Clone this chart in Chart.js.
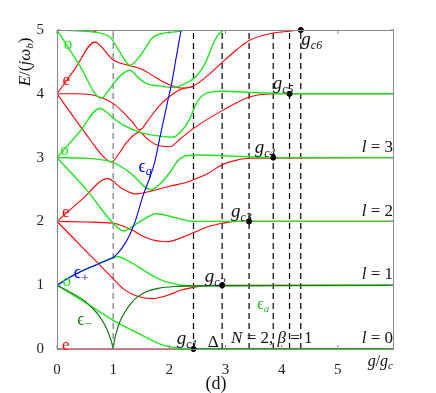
<!DOCTYPE html>
<html>
<head>
	<title>Spectrum (d)</title>
	<style>
		body { margin: 0; background: #fff; }
		.chartBox { width: 436px; height: 393px; }
	</style>
</head>
<body>
	<div class="chartBox">
	<canvas id="chart1" width="436" height="393"></canvas>
	</div>

	<script src="https://cdn.jsdelivr.net/npm/chart.js@4/dist/chart.umd.min.js"></script>
	<script>
		// levels, each point is [g/g_c, E/(j w_b)]
		// red (even parity) curves
		var red0 = [[0,0],[6,0]];
		var red1 = [[0,2],[0.5,1.55],[1.0,1.1],[1.2,0.93],[1.42,0.83],[1.7,0.79],[2.0,0.85],[2.2,0.92],[2.45,0.97],[2.8,1.0],[6,1]];
		var red2 = [[0,2],[0.5,1.99],[1.0,1.97],[1.3,1.88],[1.6,1.74],[1.95,1.68],[2.2,1.74],[2.45,1.83],[2.7,1.92],[2.95,1.97],[3.2,2.0],[6,2]];
		var red3 = [[0,2],[0.45,2.35],[0.9,2.67],[1.15,2.52],[1.4,2.43],[1.65,2.47],[2.0,2.55],[2.3,2.61],[2.45,2.66],[2.7,2.76],[2.95,2.89],[3.2,2.96],[3.43,2.99],[6,3]];
		var red4 = [[0,4],[0.3,3.63],[0.59,3.28],[0.8,3.04],[0.97,2.93],[1.1,3.06],[1.25,3.25],[1.47,3.4],[1.6,3.3],[1.77,3.2],[2.01,3.17],[2.2,3.3],[2.45,3.47],[2.95,3.74],[3.43,3.95],[3.9,4.0],[6,4]];
		var red5 = [[0,4],[0.3,4.0],[0.59,3.99],[0.82,3.93],[1.0,3.85],[1.18,3.71],[1.35,3.55],[1.47,3.43],[1.6,3.56],[1.83,3.82],[2.07,4.0],[2.2,4.07],[2.42,4.11]];
		var red6 = [[0,4],[0.32,4.39],[0.67,4.81],[1.0,4.53],[1.25,4.45],[1.5,4.39],[1.75,4.26],[1.95,4.16],[2.2,4.09],[2.42,4.12],[2.7,4.3],[2.95,4.5],[3.2,4.69],[3.43,4.84],[3.84,4.95],[4.14,4.98],[4.34,5.0],[6,5]];
		var red7 = [[0.45,5.3],[0.67,4.97],[0.9,5.3]];

		// green (odd parity) curves
		var green0 = [[0,1],[0.5,0.73],[1.0,0.45],[1.44,0.25],[1.86,0.07],[2.1,0.02],[2.45,0],[6,0]];
		var green1 = [[0,1],[0.3,1.16],[0.67,1.31],[1.0,1.43],[1.08,1.45],[1.2,1.41],[1.35,1.34],[1.5,1.26],[1.7,1.15],[1.86,1.08],[2.0,1.04],[2.21,1.0],[2.45,0.99],[6,1]];
		var green2 = [[0,3],[0.53,2.49],[1.0,1.97],[1.18,1.85],[1.45,1.98],[1.77,2.12],[2.1,2.06],[2.43,2.0],[6,2]];
		var green3 = [[0,3],[0.5,2.99],[0.94,2.94],[1.1,2.88],[1.36,2.72],[1.55,2.55],[1.68,2.5],[1.85,2.6],[2.01,2.77],[2.15,2.95],[2.3,3.03],[2.54,3.04],[2.95,3.03],[3.5,3.01],[3.85,3.0],[6,3]];
		var green4 = [[0,3],[0.4,3.4],[0.76,3.77],[0.9,3.7],[1.0,3.62],[1.18,3.51],[1.47,3.4],[1.8,3.34],[2.07,3.32],[2.2,3.4],[2.36,3.6],[2.48,3.85],[2.6,3.98],[2.75,4.03],[2.95,4.04],[3.5,4.02],[4.14,4.0],[6,4]];
		var green5 = [[0,5],[0.4,4.45],[0.79,3.93],[0.9,4.03],[1.0,4.15],[1.15,4.3],[1.3,4.37],[1.45,4.25],[1.6,4.16],[1.77,4.13],[2.07,4.1],[2.3,4.17],[2.45,4.25],[2.55,4.35],[2.65,4.5],[2.75,4.72],[2.85,4.9],[2.95,4.99],[3.1,5.04],[3.3,5.0],[6,5]];
		var green6 = [[0,5],[0.5,4.98],[0.94,4.89],[1.1,4.68],[1.3,4.45],[1.5,4.62],[1.7,4.88],[1.9,4.95],[2.1,4.97],[2.25,5.0],[2.45,5.12]];

		// semiclassical branches
		var epsMinus = [[0,1],[0.3,0.86],[0.5,0.75],[0.62,0.65],[0.75,0.52],[0.85,0.38],[0.93,0.22],[0.98,0.08],[1.0,0],[1.02,0.12],[1.06,0.27],[1.12,0.43],[1.21,0.58],[1.32,0.72],[1.44,0.82],[1.6,0.9],[1.8,0.95],[2.1,0.98],[2.45,0.99],[6,1]];
		var epsA = [[2.43,0],[6,0]];
		var epsPlus = [[0,1],[0.3,1.16],[0.67,1.31],[1.0,1.43]];
		var epsQ = [[1.0,1.43],[1.1,1.52],[1.2,1.64],[1.3,1.8],[1.4,2.02],[1.53,2.4],[1.65,2.68],[1.74,2.93],[1.84,3.35],[1.95,3.8],[2.04,4.16],[2.12,4.56],[2.21,5.0],[2.25,5.2]];

		// critical couplings g_c1..g_c6 and their levels
		var gcVals = [2.43, 2.94, 3.42, 3.85, 4.14, 4.34];
		var gcLevels = [0, 1, 2, 3, 4, 5];
		var xTicks = [0, 1, 2, 3, 4, 5];
		var yTicks = [0, 1, 2, 3, 4, 5];

		var RED = "rgb(255,0,0)";
		var GREEN = "rgb(30,230,30)";
		var DKGREEN = "rgb(0,120,0)";
		var BLUE = "rgb(0,0,255)";
		var SERIF = "'Liberation Serif', 'DejaVu Serif', serif";

		function curve(pts, color, width, order) {
			return {
				data: pts.map(function (p) { return {x: p[0], y: p[1]}; }),
				showLine: true,
				borderColor: color,
				borderWidth: width,
				pointRadius: 0,
				cubicInterpolationMode: 'monotone',
				order: order
			};
		}

		function vline(g, color, dash) {
			return {
				data: [{x: g, y: 0}, {x: g, y: 5}],
				showLine: true,
				borderColor: color,
				borderWidth: 1.2,
				borderDash: dash,
				pointRadius: 0,
				order: 60
			};
		}

		var datasets = [];
		datasets.push(vline(1, "#777", [6, 4]));
		gcVals.forEach(function (g) { datasets.push(vline(g, "#000", [6, 4])); });

		[red0, red1, red2, red3, red4, red5, red6, red7].forEach(function (c) {
			datasets.push(curve(c, RED, 1.1, 40));
		});
		[green0, green1, green2, green3, green4, green5, green6].forEach(function (c) {
			datasets.push(curve(c, GREEN, 1.4, 30));
		});
		datasets.push(curve(epsMinus, DKGREEN, 1.1, 20));
		datasets.push(curve(epsA, DKGREEN, 1.1, 20));
		datasets.push(curve(epsPlus, BLUE, 1.1, 10));
		datasets.push(curve(epsQ, BLUE, 1.1, 10));

		datasets.push({
			data: gcVals.map(function (g, i) { return {x: g, y: gcLevels[i]}; }),
			pointRadius: 2.6,
			pointBackgroundColor: "#000",
			pointBorderColor: "#000",
			showLine: false,
			clip: false,
			order: 1
		});

		// text in the plot, italic math with a subscript
		function mathText(ctx, parts, x, y, align) {
			// parts: [text, size, italic, dy]
			var total = 0;
			parts.forEach(function (p) {
				ctx.font = (p[2] ? "italic " : "") + p[1] + "px " + SERIF;
				total += ctx.measureText(p[0]).width;
			});
			var cx = align === "right" ? x - total : (align === "center" ? x - total / 2 : x);
			ctx.textAlign = "left";
			parts.forEach(function (p) {
				ctx.font = (p[2] ? "italic " : "") + p[1] + "px " + SERIF;
				ctx.fillText(p[0], cx, y + (p[3] || 0));
				cx += ctx.measureText(p[0]).width;
			});
		}

		var annotate = {
			id: 'annotate',
			afterDatasetsDraw: function (chart) {
				var ctx = chart.ctx;
				var xs = chart.scales.x, ys = chart.scales.y;
				var a = chart.chartArea;
				function X(v) { return xs.getPixelForValue(v); }
				function Y(v) { return ys.getPixelForValue(v); }
				ctx.save();

				// frame and inward ticks
				ctx.strokeStyle = "#888";
				ctx.lineWidth = 1;
				ctx.strokeRect(a.left + 0.5, a.top + 0.5, a.right - a.left - 1, a.bottom - a.top);
				ctx.beginPath();
				xTicks.forEach(function (t) {
					ctx.moveTo(X(t), a.bottom); ctx.lineTo(X(t), a.bottom - 4);
					ctx.moveTo(X(t), a.top); ctx.lineTo(X(t), a.top + 4);
				});
				yTicks.forEach(function (t) {
					ctx.moveTo(a.left, Y(t)); ctx.lineTo(a.left + 4, Y(t));
					ctx.moveTo(a.right, Y(t)); ctx.lineTo(a.right - 4, Y(t));
				});
				ctx.stroke();

				ctx.textBaseline = "alphabetic";
				// parity marks at g = 0
				ctx.fillStyle = RED;
				ctx.font = "17px " + SERIF;
				[[0.09, 0.0], [0.09, 2.08], [0.1, 4.15]].forEach(function (p) { ctx.fillText("e", X(p[0]), Y(p[1]) + 1); });
				ctx.fillStyle = GREEN;
				[[0.1, 0.98], [0.06, 3.04], [0.12, 4.7]].forEach(function (p) { ctx.fillText("o", X(p[0]), Y(p[1])); });

				// branch labels
				ctx.fillStyle = BLUE;
				mathText(ctx, [["\u03F5", 18, false], ["q", 12, true, 3]], X(1.45), Y(2.78), "left");
				mathText(ctx, [["\u03F5", 18, false], ["+", 13, false, 4]], X(0.3), Y(1.12), "left");
				ctx.fillStyle = "rgb(30,140,30)";
				mathText(ctx, [["\u03F5", 18, false], ["\u2212", 13, false, 3]], X(0.36), Y(0.38), "left");
				ctx.fillStyle = "rgb(30,190,30)";
				mathText(ctx, [["\u03F5", 17, false], ["a", 11, true, 3]], X(3.56), Y(0.62), "left");

				// critical couplings
				ctx.fillStyle = "#111";
				var gcText = [[2.13, 0.08], [2.63, 1.05], [3.1, 2.07], [3.52, 3.07], [3.84, 4.07], [4.35, 4.76]];
				gcText.forEach(function (p, i) {
					mathText(ctx, [["g", 19, true], ["c" + (i + 1), 12, true, 4]], X(p[0]), Y(p[1]), "left");
				});
				ctx.font = "17px " + SERIF;
				ctx.textAlign = "center";
				ctx.fillText("\u0394", X(2.78), Y(0.03));

				mathText(ctx, [["N", 17, true], [" = 2, ", 17, false], ["\u03B2", 17, true], [" = 1", 17, false]], X(3.1), Y(0.1), "left");
				for (var l = 0; l < 4; l++) {
					mathText(ctx, [["l", 17, true], [" = " + l, 17, false]], a.right - 1, Y(l + 0.09), "right");
				}

				// axis titles
				mathText(ctx, [["g", 16, true], ["/", 16, false], ["g", 16, true], ["c", 11, true, 3]], a.right - 1, a.bottom + 17, "right");
				ctx.font = "18px " + SERIF;
				ctx.textAlign = "center";
				ctx.fillText("(d)", 216, 389);

				ctx.translate(30, 62);
				ctx.rotate(-Math.PI / 2);
				mathText(ctx, [["E", 17, true], ["/(", 17, false], ["j\u03C9", 17, true], ["b", 11, true, 3], [")", 17, false]], 0, 0, "center");
				ctx.restore();
			}
		};

		var ctx = document.getElementById('chart1').getContext('2d');
		var chart = new Chart(ctx, {
			type: 'scatter',
			data: { datasets: datasets },
			options: {
				responsive: false,
				animation: false,
				layout: { padding: { top: 30, right: 42, left: 0, bottom: 0 } },
				plugins: { legend: { display: false }, tooltip: { enabled: false } },
				scales: {
					x: {
						type: 'linear', min: 0, max: 6,
						afterFit: function (s) { s.height = 44; },
						grid: { display: false },
						border: { display: false },
						ticks: {
							stepSize: 1, padding: 4, color: "#222",
							font: { family: SERIF, size: 15 },
							callback: function (v) { return v === 6 ? '' : v; }
						}
					},
					y: {
						type: 'linear', min: 0, max: 5,
						afterFit: function (s) { s.width = 57; },
						grid: { display: false },
						border: { display: false },
						ticks: {
							stepSize: 1, padding: 5, color: "#222",
							font: { family: SERIF, size: 15 }
						}
					}
				}
			},
			plugins: [annotate]
		});
	</script>
</body>
</html>
